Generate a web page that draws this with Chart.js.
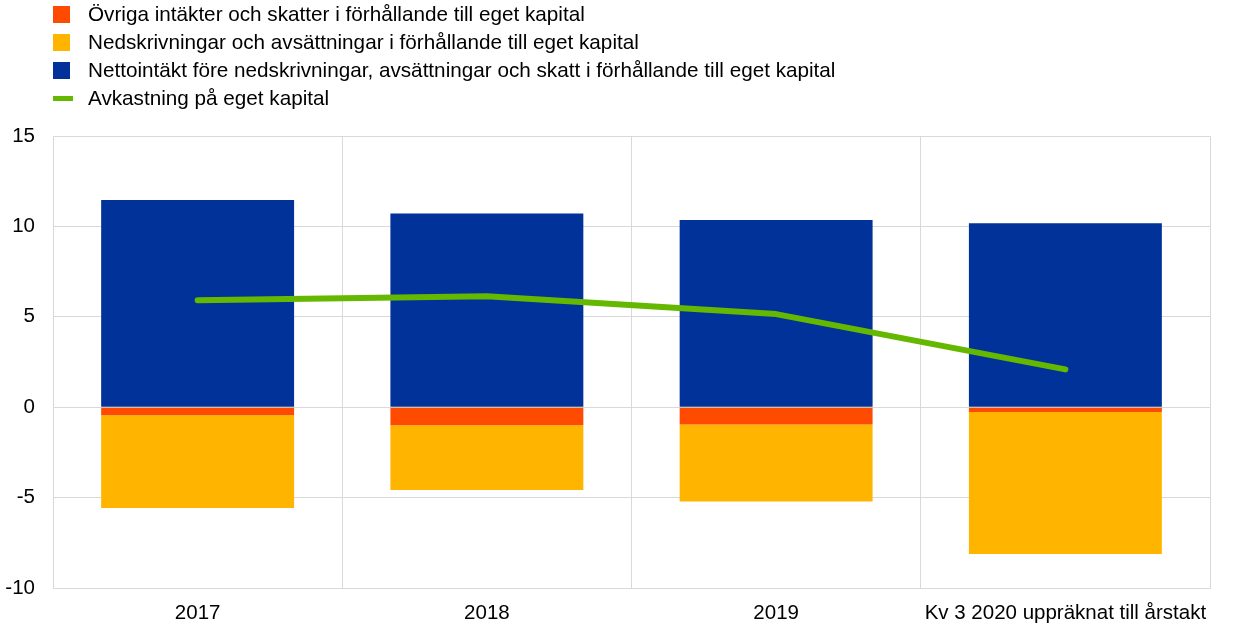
<!DOCTYPE html>
<html>
<head>
<meta charset="utf-8">
<script src="https://cdn.jsdelivr.net/npm/chart.js@4"></script>
<style>
  html, body { margin: 0; padding: 0; background: #fff; }
  #wrap { position: relative; width: 1240px; height: 641px; }
  #legend { position: absolute; left: 53px; top: 0; font-family: "Liberation Sans", Arial, sans-serif; font-size: 20.7px; color: #000; }
  .row { position: relative; height: 28px; line-height: 28px; padding-left: 35px; white-space: nowrap; }
  .sw { position: absolute; left: 0; top: 6px; width: 17px; height: 17px; }
  .ln { position: absolute; left: 0; top: 11.5px; width: 20px; height: 5px; }
</style>
</head>
<body>
<div id="wrap">
  <canvas id="c" width="1240" height="641"></canvas>
  <div id="legend"></div>
</div>
<script>
const categories = ["2017", "2018", "2019", "Kv 3 2020 uppräknat till årstakt"];
const seriesNames = [
  "Övriga intäkter och skatter i förhållande till eget kapital",
  "Nedskrivningar och avsättningar i förhållande till eget kapital",
  "Nettointäkt före nedskrivningar, avsättningar och skatt i förhållande till eget kapital",
  "Avkastning på eget kapital"
];
const otherIncomeTaxes = [-0.44, -1.00, -0.96, -0.27];
const impairments = [-5.13, -3.58, -4.26, -7.85];
const netIncome = [11.46, 10.71, 10.35, 10.17];
const roe = [5.92, 6.14, 5.15, 2.09];
const yTicks = [-10, -5, 0, 5, 10, 15];

const colors = ["#ff4b00", "#ffb400", "#003299", "#65b800"];
const FONT = "'Liberation Sans', Arial, sans-serif";

const chart = new Chart(document.getElementById('c'), {
  type: 'bar',
  data: {
    labels: categories,
    datasets: [
      { type: 'line', label: seriesNames[3], data: roe, borderColor: colors[3], backgroundColor: colors[3],
        borderWidth: 6, pointRadius: 0, borderCapStyle: 'round', borderJoinStyle: 'round', stack: 'line', order: 0, tension: 0 },
      { label: seriesNames[0], data: otherIncomeTaxes, backgroundColor: colors[0], stack: 's', order: 1 },
      { label: seriesNames[1], data: impairments, backgroundColor: colors[1], stack: 's', order: 1 },
      { label: seriesNames[2], data: netIncome, backgroundColor: colors[2], stack: 's', order: 1 }
    ]
  },
  options: {
    responsive: false,
    animation: false,
    layout: { padding: { top: 136, right: 30, left: 0, bottom: 0 } },
    datasets: { bar: { categoryPercentage: 1.0, barPercentage: 0.667, borderWidth: 0 } },
    plugins: { legend: { display: false }, tooltip: { enabled: false } },
    scales: {
      x: {
        stacked: true,
        grid: { color: '#d9d9d9', lineWidth: 1, drawTicks: false, offset: true },
        border: { color: '#d9d9d9' },
        ticks: { color: '#000', font: { family: FONT, size: 20.5 }, padding: 13, maxRotation: 0, autoSkip: false },
        afterFit: (s) => { s.height = 53; }
      },
      y: {
        stacked: true,
        min: -10, max: 15,
        afterBuildTicks: (s) => { s.ticks = yTicks.map(v => ({ value: v })); },
        grid: { color: '#d9d9d9', lineWidth: 1, drawTicks: false },
        border: { color: '#d9d9d9' },
        ticks: { color: '#000', font: { family: FONT, size: 20.5 }, padding: 18 },
        afterFit: (s) => { s.width = 53; }
      }
    }
  }
});

// HTML legend built from chart datasets (order: orange, yellow, blue, line)
const legendEl = document.getElementById('legend');
[1, 2, 3, 0].forEach(i => {
  const ds = chart.data.datasets[i];
  const row = document.createElement('div');
  row.className = 'row';
  const mark = document.createElement('span');
  mark.className = ds.type === 'line' ? 'ln' : 'sw';
  mark.style.background = ds.backgroundColor;
  row.appendChild(mark);
  row.appendChild(document.createTextNode(ds.label));
  legendEl.appendChild(row);
});
</script>
</body>
</html>
